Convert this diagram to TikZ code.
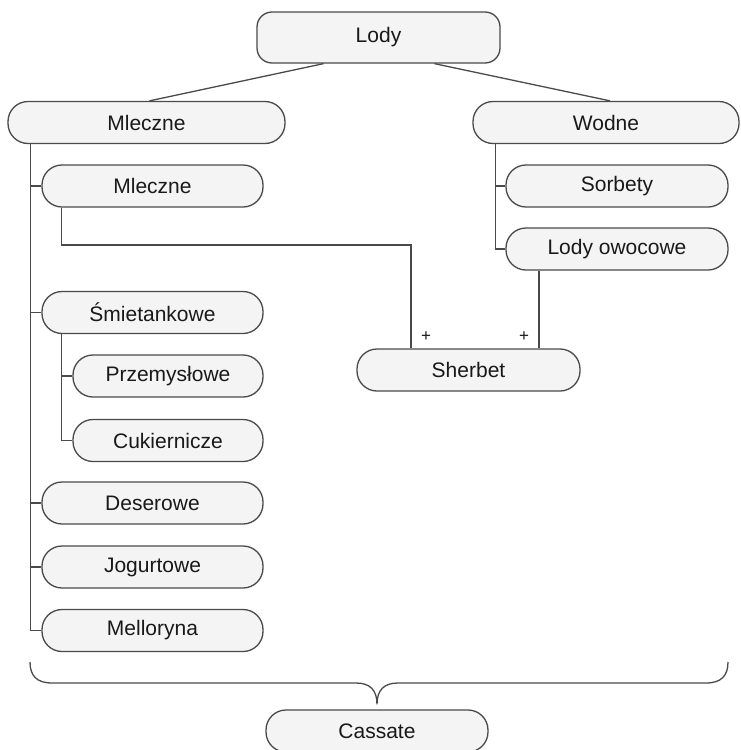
\documentclass[tikz,border=0pt]{standalone}
\usepackage{fontspec}
\setmainfont{Liberation Sans}
\usetikzlibrary{calc}

\definecolor{linegray}{HTML}{4A4A4A}
\definecolor{boxfill}{HTML}{F4F4F4}

\begin{document}
\begin{tikzpicture}[x=1pt,y=-1pt,line width=1.3pt,
  kind/.style={draw=linegray, fill=boxfill, rounded corners=20pt, minimum height=42pt,
    inner sep=0pt, font=\fontsize{21}{25}\selectfont, text=black!90},
  link/.style={draw=linegray, line width=1.3pt},
  plusmark/.style={font=\fontsize{17}{19}\selectfont, inner sep=0pt, text=black!90}]

  \useasboundingbox (0,0) rectangle (741,750);

  %% Top levels
  \node[kind, minimum width=243pt, minimum height=51pt, rounded corners=15pt] (lody) at (378.5,37.5) {Lody};
  \node[kind, minimum width=277pt] (mleczne) at (146.5,122.5) {Mleczne};
  \node[kind, minimum width=266pt] (wodne) at (606,122.5) {Wodne};

  %% Left column
  \node[kind, minimum width=221pt] (mlecz) at (152.5,186) {Mleczne};
  \node[kind, minimum width=221pt] (smiet) at (152.5,312.5) {Śmietankowe};
  \node[kind, minimum width=190pt] (przem) at (168,376) {Przemysłowe};
  \node[kind, minimum width=190pt] (cukier) at (168,440.5) {Cukiernicze};
  \node[kind, minimum width=221pt] (deser) at (152.5,503) {Deserowe};
  \node[kind, minimum width=221pt] (jogurt) at (152.5,567) {Jogurtowe};
  \node[kind, minimum width=221pt] (mellor) at (152.5,630.5) {Melloryna};

  %% Right column
  \node[kind, minimum width=222pt] (sorbet) at (617,186) {Sorbety};
  \node[kind, minimum width=222pt] (owoc) at (617,249) {Lody owocowe};
  \node[kind, minimum width=223pt] (sherbet) at (468.5,370) {Sherbet};
  \node[kind, minimum width=222pt] (cassate) at (377,731) {Cassate};

  %% Lody -> kinds
  \draw[link] ([xshift=-55pt]lody.south) -- ([xshift=3pt]mleczne.north);
  \draw[link] ([xshift=56pt]lody.south) -- ([xshift=4pt]wodne.north);

  %% Trunks
  \coordinate (trunkL) at ([xshift=23pt]mleczne.south west);
  \coordinate (trunkS) at ([xshift=20pt]smiet.south west);
  \coordinate (trunkW) at ([xshift=23pt]wodne.south west);
  \draw[link] (trunkL) |- (mellor.west);
  \foreach \n in {mlecz,smiet,deser,jogurt}
    \draw[link] (trunkL |- \n.west) -- (\n.west);
  \draw[link] (trunkS) |- (cukier.west);
  \draw[link] (trunkS |- przem.west) -- (przem.west);
  \draw[link] (trunkW) |- (owoc.west);
  \draw[link] (trunkW |- sorbet.west) -- (sorbet.west);

  %% Sherbet
  \coordinate (bendA) at (411,245);
  \coordinate (dropB) at ([xshift=-78pt]owoc.south);
  \draw[link] ([xshift=20pt]mlecz.south west) |- (bendA) -- (bendA |- sherbet.north)
    node[plusmark, xshift=15pt, yshift=12pt] {+};
  \draw[link] (dropB) -- (dropB |- sherbet.north)
    node[plusmark, xshift=-15pt, yshift=12pt] {+};

  %% Brace to Cassate
  \draw[link] (30,662) .. controls (30,676) and (37,683) .. (52,683) -- (356,683)
    .. controls (370,683) and (377,690) .. ([yshift=5pt]cassate.north)
    .. controls (377,690) and (384,683) .. (398,683) -- (706,683)
    .. controls (721,683) and (728,676) .. (728,662);

\end{tikzpicture}
\end{document}
